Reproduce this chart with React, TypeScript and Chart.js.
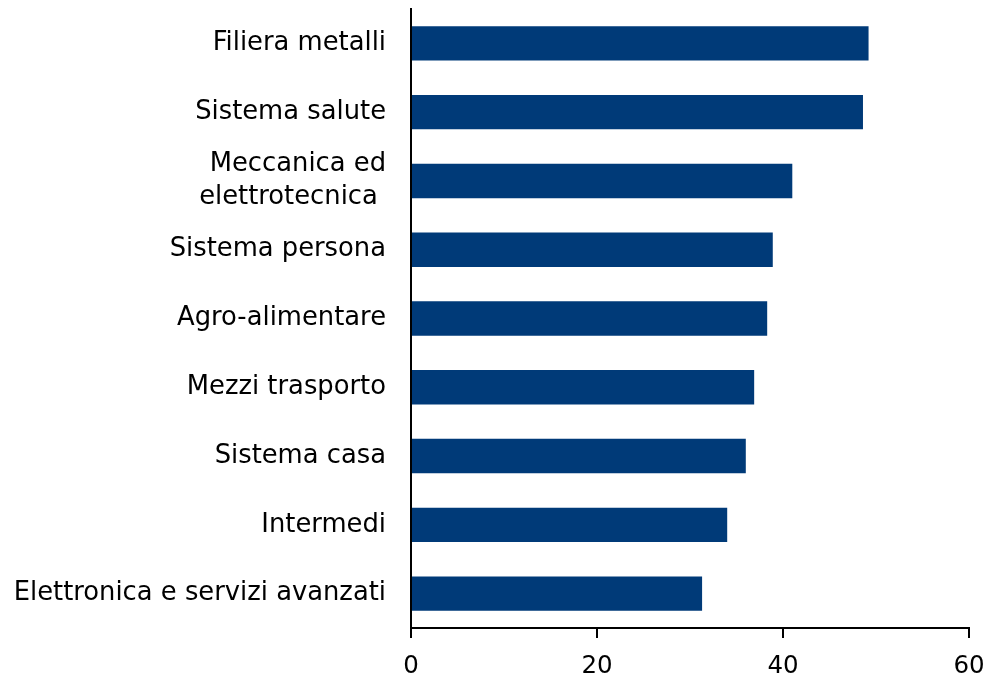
import React, { useEffect, useRef } from "react";
import { Chart, registerables } from "chart.js";

Chart.register(...registerables);

const categories: (string | string[])[] = [
  "Filiera metalli",
  "Sistema salute",
  ["Meccanica ed", "elettrotecnica "],
  "Sistema persona",
  "Agro-alimentare",
  "Mezzi trasporto",
  "Sistema casa",
  "Intermedi",
  "Elettronica e servizi avanzati",
];
const values = [49.2, 48.6, 41.0, 38.9, 38.3, 36.9, 36.0, 34.0, 31.3];
const xTicks = [0, 20, 40, 60];

const FONT = "'DejaVu Sans', sans-serif";

export default function App() {
  const ref = useRef<HTMLCanvasElement>(null);
  useEffect(() => {
    const chart = new Chart(ref.current!, {
      type: "bar",
      data: {
        labels: categories,
        datasets: [
          {
            data: values,
            backgroundColor: "#003A78",
            barPercentage: 0.5,
            categoryPercentage: 1,
          },
        ],
      },
      options: {
        indexAxis: "y",
        animation: false,
        responsive: false,
        layout: { padding: { top: 9, right: 17, left: 0, bottom: 0 } },
        plugins: { legend: { display: false }, tooltip: { enabled: false } },
        scales: {
          x: {
            min: 0,
            max: 60,
            afterBuildTicks: (s: any) => {
              s.ticks = xTicks.map((v) => ({ value: v }));
            },
            afterFit: (s: any) => {
              s.height = 48;
              s.paddingLeft = 0;
              s.paddingRight = 0;
            },
            grid: {
              display: true,
              drawOnChartArea: false,
              drawTicks: true,
              tickLength: 10,
              color: "#000",
              lineWidth: 2,
            },
            border: { display: true, color: "#000", width: 2 },
            ticks: {
              color: "#000",
              padding: 14,
              autoSkip: false,
              maxRotation: 0,
              font: { family: FONT, size: 24.5 },
            },
          },
          y: {
            afterFit: (s: any) => {
              s.width = 411;
              s.paddingTop = 0;
              s.paddingBottom = 0;
            },
            grid: { display: false },
            border: { display: true, color: "#000", width: 2 },
            ticks: {
              color: "#000",
              padding: 17,
              autoSkip: false,
              font: { family: FONT, size: 25.8, lineHeight: 1.3 },
            },
          },
        },
      },
    });
    return () => chart.destroy();
  }, []);
  return (
    <div style={{ position: "fixed", left: 0, top: 0, width: 986, height: 676, background: "#fff" }}>
      <canvas ref={ref} width={986} height={676} />
    </div>
  );
}
